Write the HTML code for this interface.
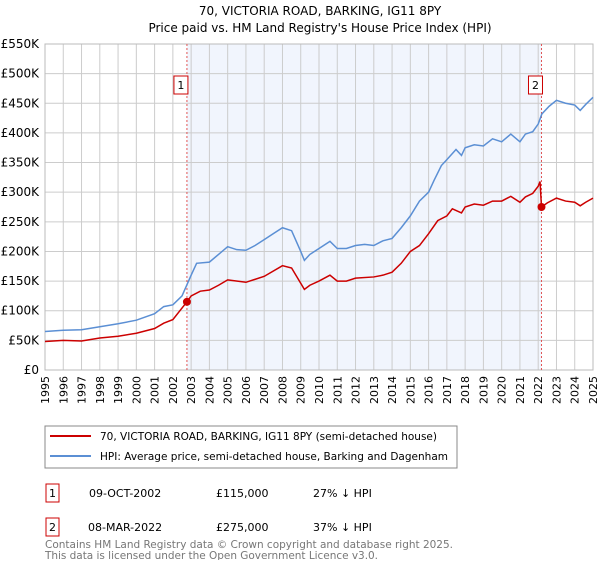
<!DOCTYPE html>
<html><head><meta charset="utf-8"><style>
body{margin:0;background:#fff;font-family:"Liberation Sans","DejaVu Sans",sans-serif;}
svg text{font-family:"DejaVu Sans","Liberation Sans",sans-serif;}
</style></head><body>
<svg id="c" width="600" height="560" xmlns="http://www.w3.org/2000/svg">
<text x="320" y="15" text-anchor="middle" font-size="12" fill="#000">70, VICTORIA ROAD, BARKING, IG11 8PY</text>
<text x="320" y="32" text-anchor="middle" font-size="12" fill="#000">Price paid vs. HM Land Registry's House Price Index (HPI)</text>
<g id="plot"></g>
<rect x="45" y="426" width="412" height="42" fill="#fff" stroke="#888"/>
<line x1="50" y1="436" x2="91" y2="436" stroke="#cc0000" stroke-width="2"/>
<text x="100" y="440" font-size="10.5" textLength="337">70, VICTORIA ROAD, BARKING, IG11 8PY (semi-detached house)</text>
<line x1="50" y1="456" x2="91" y2="456" stroke="#5b8fd4" stroke-width="2"/>
<text x="100" y="460" font-size="10.5" textLength="348">HPI: Average price, semi-detached house, Barking and Dagenham</text>
<g font-size="11">
<rect x="46" y="484" width="13" height="18" fill="#fff" stroke="#cc0000"/>
<text x="52.5" y="497" text-anchor="middle">1</text>
<text x="89" y="497">09-OCT-2002</text><text x="216" y="497">£115,000</text><text x="313" y="497">27% ↓ HPI</text>
<rect x="46" y="518" width="13" height="18" fill="#fff" stroke="#cc0000"/>
<text x="52.5" y="531" text-anchor="middle">2</text>
<text x="88" y="531">08-MAR-2022</text><text x="216" y="531">£275,000</text><text x="313" y="531">37% ↓ HPI</text>
</g>
<text x="45" y="548" font-size="10.5" fill="#777" textLength="408">Contains HM Land Registry data © Crown copyright and database right 2025.</text>
<text x="45" y="559" font-size="10.5" fill="#777" textLength="333">This data is licensed under the Open Government Licence v3.0.</text>
</svg>
<script>
const yTicks=[0,50,100,150,200,250,300,350,400,450,500,550];
const yTickLabels=["£0","£50K","£100K","£150K","£200K","£250K","£300K","£350K","£400K","£450K","£500K","£550K"];
const years=[1995,1996,1997,1998,1999,2000,2001,2002,2003,2004,2005,2006,2007,2008,2009,2010,2011,2012,2013,2014,2015,2016,2017,2018,2019,2020,2021,2022,2023,2024,2025];
const hpiX=[1995,1996,1997,1998,1999,2000,2001,2001.5,2002,2002.5,2003,2003.3,2004,2004.5,2005,2005.5,2006,2006.5,2007,2007.5,2008,2008.5,2009,2009.2,2009.5,2010,2010.6,2011,2011.5,2012,2012.5,2013,2013.5,2014,2014.5,2015,2015.5,2016,2016.3,2016.7,2017,2017.5,2017.8,2018,2018.5,2019,2019.5,2020,2020.5,2021,2021.3,2021.7,2022,2022.2,2022.6,2023,2023.5,2024,2024.3,2024.6,2025];
const hpiY=[65,67,68,73,78,84,95,107,110,125,160,180,182,195,208,203,202,210,220,230,240,235,200,185,195,205,217,205,205,210,212,210,218,222,240,260,285,300,320,345,355,372,362,375,380,378,390,385,398,385,398,402,415,432,445,455,450,447,438,448,460];
const propX=[1995,1996,1997,1998,1999,2000,2001,2001.5,2002,2002.77,2003,2003.5,2004,2004.5,2005,2006,2007,2008,2008.5,2009.2,2009.5,2010,2010.6,2011,2011.5,2012,2013,2013.5,2014,2014.5,2015,2015.5,2016,2016.5,2017,2017.3,2017.8,2018,2018.5,2019,2019.5,2020,2020.5,2021,2021.3,2021.7,2022,2022.1,2022.18,2022.5,2023,2023.5,2024,2024.3,2024.6,2025];
const propY=[48,50,49,54,57,62,70,79,85,115,125,133,135,143,152,148,158,176,172,136,143,150,160,150,150,155,157,160,165,180,200,210,230,252,260,272,265,275,280,278,285,285,293,283,292,298,310,318,275,282,290,285,283,277,283,290];
const saleX=[2002.77,2022.18];
const saleY=[115,275];
const saleLabels=["1","2"];

const L=45,R=593,T=44,B=370;
const x=v=>L+(v-1995)/30*(R-L);
const y=v=>B-v/550*(B-T);
const NS="http://www.w3.org/2000/svg";
const g=document.getElementById('plot');
function mk(tag,attrs){const e=document.createElementNS(NS,tag);for(const k in attrs)e.setAttribute(k,attrs[k]);g.appendChild(e);return e;}
let sh=mk('rect',{x:x(saleX[0]),y:T,width:x(saleX[1])-x(saleX[0]),height:B-T,fill:'#eef3fc',opacity:0.8});


years.forEach(yr=>{
 let l=mk('line',{x1:x(yr),x2:x(yr),y1:T,y2:B,stroke:'#ccc'});
 
 
 let t=mk('text',{x:0,y:0,'font-size':11,'text-anchor':'end',transform:`translate(${x(yr)+4},${B+6}) rotate(-90)`});
 t.textContent=yr;
 
 
});
yTicks.forEach((v,i)=>{
 let l=mk('line',{x1:L,x2:R,y1:y(v),y2:y(v),stroke:'#ccc'});
 
 
 let t=mk('text',{x:L-6,y:y(v)+4,'font-size':12,'text-anchor':'end'});
 t.textContent=yTickLabels[i];
 
 
});
let ax=mk('rect',{x:L,y:T,width:R-L,height:B-T,fill:'none',stroke:'#bbb'});


saleX.forEach((s,i)=>{
 let l=mk('line',{x1:x(s),x2:x(s),y1:T,y2:B,stroke:'#e05555','stroke-dasharray':'2,2'});
 
 
 let r=mk('rect',{x:x(s)-13,y:76,width:14,height:18,fill:'#fff',stroke:'#cc0000'});
 
 
 let t=mk('text',{x:x(s)-6,y:89,'font-size':11,'text-anchor':'middle'});
 t.textContent=saleLabels[i];
 
 
});
let hp=mk('polyline',{points:hpiX.map((v,i)=>x(v)+','+y(hpiY[i])).join(' '),fill:'none',stroke:'#5b8fd4','stroke-width':1.5});


let pp=mk('polyline',{points:propX.map((v,i)=>x(v)+','+y(propY[i])).join(' '),fill:'none',stroke:'#cc0000','stroke-width':1.5});


saleX.forEach((s,i)=>{
 let c=mk('circle',{cx:x(s),cy:y(saleY[i]),r:4,fill:'#cc0000'});
 
 
});
</script>
</body></html>
